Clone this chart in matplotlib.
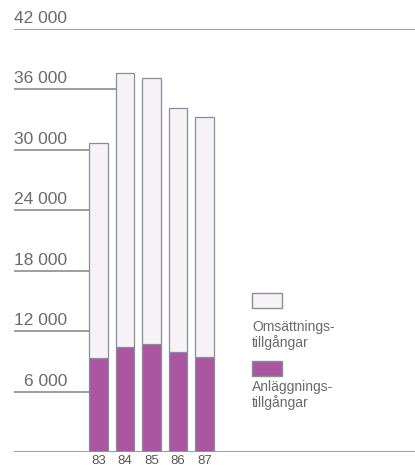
import numpy as np
from matplotlib import pyplot as plt
from matplotlib.patches import Rectangle

plt.rcParams['font.family'] = ['Liberation Sans', 'DejaVu Sans']

# --- data ---
years = ['83', '84', '85', '86', '87']
anlaggning = [9300, 10450, 10700, 9950, 9400]      # purple, bottom
omsattning = [21400, 27150, 26400, 24250, 23900]   # light, on top
y_ticks = [6000, 12000, 18000, 24000, 30000, 36000, 42000]
y_tick_labels = ['6 000', '12 000', '18 000', '24 000', '30 000', '36 000', '42 000']

purple = '#aa56a1'
light = '#f6f2f6'
edge = '#8c8c9c'
text_col = '#6a6a6a'
line_col = '#959595'

fig = plt.figure(figsize=(4.15, 4.69), dpi=100)
ax = fig.add_axes([0, 17 / 469, 1, 423 / 469])
ax.set_ylim(0, 42000)
x = np.arange(len(years))
ax.set_xlim(-98.3 / 26.5, (415 - 98.3) / 26.5)
ax.axis('off')

width = 0.70
ax.bar(x, anlaggning, width=width, color=purple, edgecolor=edge, linewidth=0.9, zorder=3)
ax.bar(x, omsattning, width=width, bottom=anlaggning, color=light, edgecolor=edge,
       linewidth=0.9, zorder=3)

totals = np.array(anlaggning) + np.array(omsattning)
x_left = -98.3 / 26.5 + 14 / 26.5
x_right = (415 - 98.3) / 26.5

# gridlines: stop at the first bar they meet, except top and baseline
for v, lab in zip(y_ticks, y_tick_labels):
    hit = np.where(totals >= v)[0]
    stop = x[hit[0]] - width / 2 if len(hit) else x_right
    ax.plot([x_left, stop], [v, v], color=line_col, lw=1.3, zorder=1,
            solid_capstyle='butt')
    ax.annotate(lab, xy=(-98.3 / 26.5 + 67 / 26.5, v), xytext=(0, 2.2),
                textcoords='offset points', ha='right', va='bottom',
                fontsize=12.5, color=text_col)

ax.plot([x_left, x_right], [0, 0], color=line_col, lw=1.3, zorder=4,
        solid_capstyle='butt')

for xi, yr in zip(x, years):
    ax.annotate(yr, xy=(xi, 0), xytext=(0, -2.5), textcoords='offset points',
                ha='center', va='top', fontsize=9.5, color='#555555')

# legend, in figure pixels
def box(y_top, color):
    fig.patches.append(Rectangle((252 / 415, 1 - (y_top + 15) / 469), 30 / 415, 15 / 469,
                                 transform=fig.transFigure, facecolor=color,
                                 edgecolor=edge, linewidth=1.0))

box(292.5, light)
box(361, purple)
fig.text(252 / 415, 1 - 320 / 469, 'Omsättnings-\ntillgångar', ha='left', va='top',
         fontsize=10, color=text_col, linespacing=1.05)
fig.text(252 / 415, 1 - 380 / 469, 'Anläggnings-\ntillgångar', ha='left', va='top',
         fontsize=10, color=text_col, linespacing=1.05)

fig.savefig('out.png', dpi=100, facecolor='white')
